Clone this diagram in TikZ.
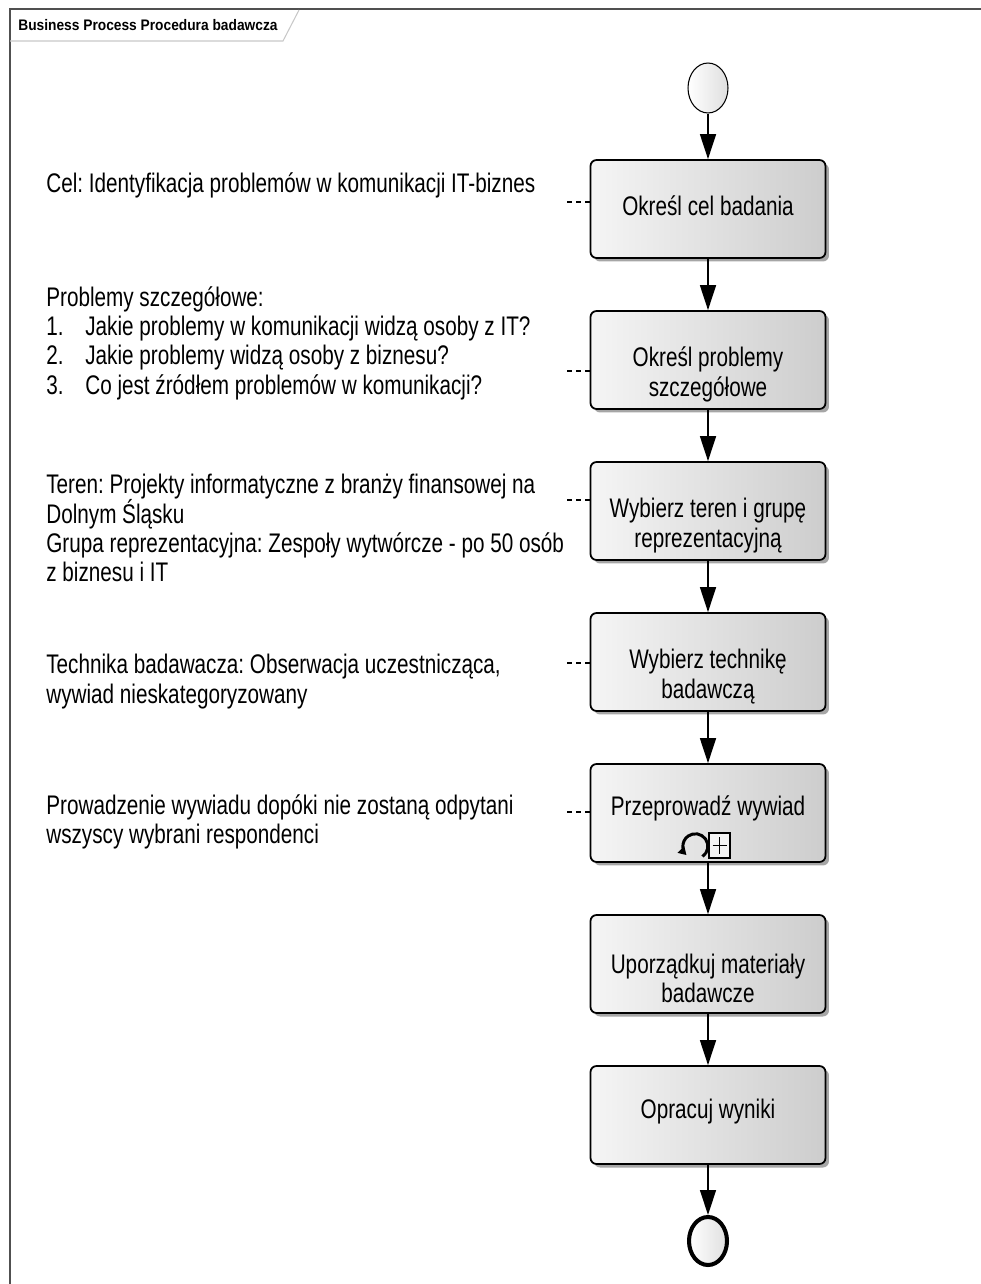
\documentclass[tikz,border=0pt]{standalone}
\usepackage{fontspec}
\setmainfont{Liberation Sans}
\newfontfamily\narrowsans[FakeStretch=0.77]{Liberation Sans}
\newfontfamily\headsans[FakeStretch=0.9]{Liberation Sans}
\usetikzlibrary{arrows.meta,shapes.geometric,shadows}
\definecolor{taskleft}{HTML}{F5F5F5}
\definecolor{taskright}{HTML}{CDCDCD}
\definecolor{framegray}{HTML}{505050}
\definecolor{tabgray}{HTML}{C8C8C8}
\frenchspacing
\setlength{\lineskiplimit}{-20pt}

\tikzset{
    task/.style={rectangle, rounded corners=0.12cm, draw=black, line width=1pt,
        left color=taskleft, right color=taskright,
        minimum width=4.7cm, minimum height=1.96cm, align=center,
        font=\narrowsans\fontsize{15.3}{17}\selectfont,
        drop shadow={shadow xshift=0.07cm, shadow yshift=-0.07cm, fill=black, opacity=0.35}},
    twoline/.style={text height=1.56cm},
    startevent/.style={ellipse, draw=black, line width=0.6pt, inner sep=0pt,
        minimum width=0.8cm, minimum height=1cm, left color=white, right color=gray!25},
    endevent/.style={ellipse, draw=black, line width=2.3pt, inner sep=0pt,
        minimum width=0.76cm, minimum height=0.96cm, left color=white, right color=gray!25},
    note/.style={anchor=north west, inner sep=0pt, align=left,
        font=\narrowsans\fontsize{15.3}{16.7}\selectfont},
    flow/.style={line width=0.8pt, -{Triangle[length=0.5cm, width=0.32cm]}},
    assoc/.style={line width=0.6pt, dash pattern=on 0.1cm off 0.08cm}
}

\begin{document}
\begin{tikzpicture}[x=0.02cm, y=-0.02cm]
        \useasboundingbox (0,0) rectangle (980,1284);

        \draw [framegray, line width=1.2pt] (10,1290) -- (10,9) -- (985,9);
        \draw [tabgray, line width=0.6pt] (10,41) -- (283,41) -- (299,10);
        \node (title) [anchor=west, inner sep=0pt, font=\headsans\bfseries\fontsize{8.7}{10}\selectfont] at (18,25) {Business Process Procedura badawcza};

        \node (start) [startevent] at (708,88) {};
        \node (t1) [task] at (708,209) {\raisebox{0.06cm}[\height][\depth]{Określ cel badania}};
        \node (t2) [task, twoline] at (708,360) {Określ problemy\\szczegółowe};
        \node (t3) [task, twoline] at (708,511) {Wybierz teren i grupę\\reprezentacyjną};
        \node (t4) [task, twoline] at (708,662) {Wybierz technikę\\badawczą};
        \node (t5) [task] at (708,813) {\raisebox{0.1cm}[\height][\depth]{Przeprowadź wywiad}};
        \node (t6) [task, twoline] at (708,964) {Uporządkuj materiały\\badawcze};
        \node (t7) [task] at (708,1115) {\raisebox{0.06cm}[\height][\depth]{Opracuj wyniki}};
        \node (stop) [endevent] at (708,1241) {};

        \draw [flow] (start) -- (t1);
        \draw [flow] (t1) -- (t2);
        \draw [flow] (t2) -- (t3);
        \draw [flow] (t3) -- (t4);
        \draw [flow] (t4) -- (t5);
        \draw [flow] (t5) -- (t6);
        \draw [flow] (t6) -- (t7);
        \draw [flow] (t7) -- (stop);

        \draw [black, line width=0.6pt, fill=taskleft] (709,833) rectangle (730,858);
        \draw [black, line width=0.6pt] (712.5,845.5) -- (726.5,845.5);
        \draw [black, line width=0.6pt] (719.5,837) -- (719.5,854);
        \draw [black, line width=1.7pt, -{Triangle[length=0.16cm, width=0.18cm]}] (702.5,856.5) arc [start angle=-55, end angle=225, radius=0.25cm];

        \node (n1) [note] at (46,172) {Cel: Identyfikacja problemów w komunikacji IT-biznes};
        \node (n2) [note] at (46,286) {Problemy szczegółowe:\\
            \makebox[0.78cm][l]{1.}Jakie problemy w komunikacji widzą osoby z IT?\\
            \makebox[0.78cm][l]{2.}Jakie problemy widzą osoby z biznesu?\\
            \makebox[0.78cm][l]{3.}Co jest źródłem problemów w komunikacji?};
        \node (n3) [note] at (46,474) {Teren: Projekty informatyczne z branży finansowej na\\Dolnym Śląsku\\Grupa reprezentacyjna: Zespoły wytwórcze - po 50 osób\\z biznesu i IT};
        \node (n4) [note] at (46,654) {Technika badawacza: Obserwacja uczestnicząca,\\wywiad nieskategoryzowany};
        \node (n5) [note] at (46,794) {Prowadzenie wywiadu dopóki nie zostaną odpytani\\wszyscy wybrani respondenci};

        \coordinate (a1) at (567,202);
        \coordinate (a2) at (567,371);
        \coordinate (a3) at (567,500);
        \coordinate (a4) at (567,663);
        \coordinate (a5) at (567,812);
        \draw [assoc] (a1) -- (a1 -| t1.west);
        \draw [assoc] (a2) -- (a2 -| t2.west);
        \draw [assoc] (a3) -- (a3 -| t3.west);
        \draw [assoc] (a4) -- (a4 -| t4.west);
        \draw [assoc] (a5) -- (a5 -| t5.west);
    \end{tikzpicture}
\end{document}
